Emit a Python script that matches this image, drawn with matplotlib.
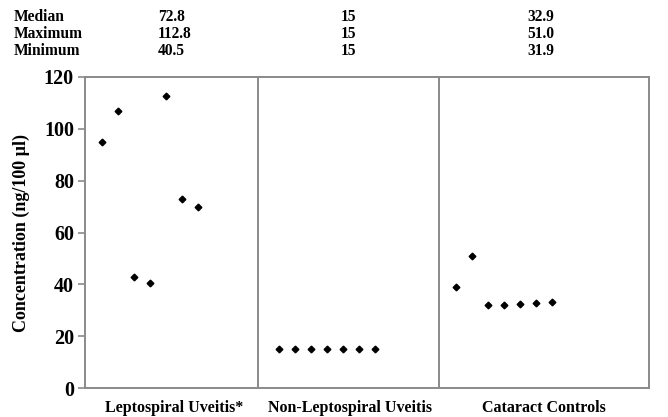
import matplotlib

matplotlib.use("Agg")
import matplotlib.pyplot as plt
import numpy as np

groups = ["Leptospiral Uveitis*", "Non-Leptospiral Uveitis", "Cataract Controls"]
lepto = [95.0, 107.0, 42.7, 40.5, 112.8, 72.8, 70.0]
non_lepto = [15, 15, 15, 15, 15, 15, 15]
cataract = [39.0, 51.0, 31.9, 32.0, 32.4, 32.9, 33.2]
stat_names = ["Median", "Maximum", "Minimum"]
stat_values = [["72.8", "15", "32.9"], ["112.8", "15", "51.0"], ["40.5", "15", "31.9"]]
yticks = [0, 20, 40, 60, 80, 100, 120]

W, H = 668, 417
plt.rcParams["font.family"] = ["Liberation Serif", "DejaVu Serif"]
plt.rcParams["font.weight"] = "bold"

fig = plt.figure(figsize=(W / 100, H / 100), dpi=100)
ax = fig.add_axes([85 / W, 1 - 388 / H, (649 - 85) / W, (388 - 77) / H])

gray = "#8a8a8a"
# x in units of ~16 px, one step per point
starts = [1.06, 12.11, 23.16]
dividers = [10.81, 22.12]
for start, vals in zip(starts, [lepto, non_lepto, cataract]):
    xs = start + np.arange(len(vals))
    ax.plot(xs, vals, linestyle="none", marker="D", markersize=3.4, color="black")
for d in dividers:
    ax.axvline(d, color=gray, linewidth=1.4)

ax.set_xlim(0, 35.25)
ax.set_ylim(0, 120)
ax.set_yticks(yticks)
ax.set_xticks([])
ax.tick_params(axis="y", direction="out", length=5, width=1.2, color=gray,
               labelsize=14.5, pad=3)
for label in ax.get_yticklabels():
    label.set_fontweight("bold")
for spine in ax.spines.values():
    spine.set_color(gray)
    spine.set_linewidth(1.4)

ax.set_ylabel("Concentration (ng/100 µl)", fontsize=13, fontweight="bold", labelpad=10)

label_centers = [174, 350, 544]
for cx, name in zip(label_centers, groups):
    fig.text(cx / W, 1 - 408 / H, name, ha="center", va="center",
             fontsize=11.5, fontweight="bold")

row_y = [17, 34, 51]
col_x = [158, 341, 527]
for ry, name, vals in zip(row_y, stat_names, stat_values):
    fig.text(14 / W, 1 - ry / H, name, ha="left", va="center",
             fontsize=11.2, fontweight="bold")
    for cx, v in zip(col_x, vals):
        fig.text(cx / W, 1 - ry / H, v, ha="left", va="center",
                 fontsize=11.2, fontweight="bold")

fig.savefig("out.png", dpi=100)
